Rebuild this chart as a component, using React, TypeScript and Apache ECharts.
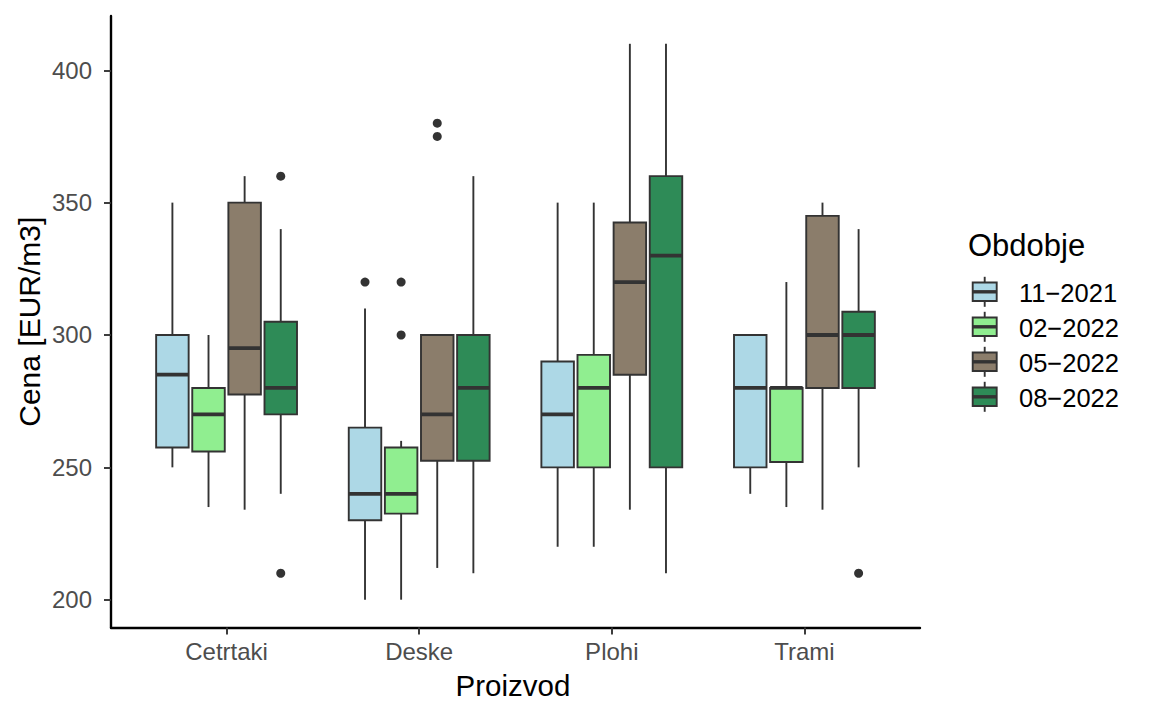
import React, { useEffect, useRef } from "react";
import * as echarts from "echarts";

// ---- Data ----
const CATEGORIES = ["Cetrtaki", "Deske", "Plohi", "Trami"];
const PERIODS = ["11\u22122021", "02\u22122022", "05\u22122022", "08\u22122022"];
const COLORS = ["#ADD8E6", "#90EE90", "#8B7D6B", "#2E8B57"];
const Y_TICKS = [200, 250, 300, 350, 400];

// [lower whisker, Q1, median, Q3, upper whisker] per category
const BOX_11_2021 = [
  [250, 257.5, 285, 300, 350],
  [200, 230, 240, 265, 310],
  [220, 250, 270, 290, 350],
  [240, 250, 280, 300, 300],
];
const BOX_02_2022 = [
  [235, 256, 270, 280, 300],
  [200, 232.5, 240, 257.5, 260],
  [220, 250, 280, 292.5, 350],
  [235, 252, 280, 280, 320],
];
const BOX_05_2022 = [
  [234, 277.5, 295, 350, 360],
  [212, 252.5, 270, 300, 300],
  [234, 285, 320, 342.5, 410],
  [234, 280, 300, 345, 350],
];
const BOX_08_2022 = [
  [240, 270, 280, 305, 340],
  [210, 252.5, 280, 300, 360],
  [210, 250, 330, 360, 410],
  [250, 280, 300, 308.75, 340],
];

// outliers: [category, value]
const OUT_11_2021: [string, number][] = [["Deske", 320]];
const OUT_02_2022: [string, number][] = [["Deske", 320], ["Deske", 300]];
const OUT_05_2022: [string, number][] = [["Deske", 380], ["Deske", 375]];
const OUT_08_2022: [string, number][] = [["Cetrtaki", 360], ["Cetrtaki", 210], ["Trami", 210]];

const BOXES = [BOX_11_2021, BOX_02_2022, BOX_05_2022, BOX_08_2022];
const OUTLIERS = [OUT_11_2021, OUT_02_2022, OUT_05_2022, OUT_08_2022];

// ---- Layout ----
const FONT = "'Liberation Sans', Arial, Helvetica, sans-serif";
const DODGE = 0.75 / 4;
const HALF = (DODGE * 0.9) / 2;
const OFFSETS = [-1.5, -0.5, 0.5, 1.5].map((k) => k * DODGE);
const STROKE = "#333333";
const LW = 1.9;

export default function App() {
  const ref = useRef<HTMLDivElement>(null);

  useEffect(() => {
    if (!ref.current) return;
    const chart = echarts.init(ref.current, null, { renderer: "svg" });

    const boxSeries = BOXES.map((boxes, si) => ({
      type: "custom",
      name: PERIODS[si],
      encode: { x: 0, y: [1, 2, 3, 4, 5] },
      data: boxes.map((b, ci) => [ci + 1, ...b]),
      z: 2,
      renderItem: (params: any, api: any) => {
        const x = api.value(0) + OFFSETS[si];
        const low = api.value(1);
        const q1 = api.value(2);
        const med = api.value(3);
        const q3 = api.value(4);
        const high = api.value(5);
        const lt = api.coord([x - HALF, q3]);
        const rb = api.coord([x + HALF, q1]);
        const pm = api.coord([x, med]);
        const pl = api.coord([x, low]);
        const ph = api.coord([x, high]);
        const ls = { stroke: STROKE, lineWidth: LW };
        return {
          type: "group",
          children: [
            { type: "line", shape: { x1: ph[0], y1: ph[1], x2: ph[0], y2: lt[1] }, style: ls },
            { type: "line", shape: { x1: pl[0], y1: rb[1], x2: pl[0], y2: pl[1] }, style: ls },
            {
              type: "rect",
              shape: { x: lt[0], y: lt[1], width: rb[0] - lt[0], height: rb[1] - lt[1] },
              style: { fill: COLORS[si], stroke: STROKE, lineWidth: LW },
            },
            {
              type: "line",
              shape: { x1: lt[0], y1: pm[1], x2: rb[0], y2: pm[1] },
              style: { stroke: STROKE, lineWidth: 3.8 },
            },
          ],
        };
      },
    }));

    const outlierSeries = OUTLIERS.map((outs, si) => ({
      type: "scatter",
      name: PERIODS[si] + " outliers",
      symbol: "circle",
      symbolSize: 9,
      z: 3,
      itemStyle: { color: STROKE, opacity: 1 },
      data: outs.map(([cat, v]) => [CATEGORIES.indexOf(cat) + 1 + OFFSETS[si], v]),
    }));

    const legendEls: any[] = [
      {
        type: "text",
        x: 968,
        y: 245,
        style: {
          text: "Obdobje",
          fill: "#000",
          fontSize: 31,
          fontFamily: FONT,
          align: "left",
          verticalAlign: "middle",
          textAlign: "left",
          textVerticalAlign: "middle",
        },
      },
    ];
    PERIODS.forEach((p, i) => {
      const cy = 291.8 + 35 * i;
      const cx = 984.7;
      legendEls.push(
        { type: "line", shape: { x1: cx, y1: cy - 15, x2: cx, y2: cy - 9.25 }, style: { stroke: STROKE, lineWidth: LW } },
        { type: "line", shape: { x1: cx, y1: cy + 9.25, x2: cx, y2: cy + 15 }, style: { stroke: STROKE, lineWidth: LW } },
        {
          type: "rect",
          shape: { x: cx - 12, y: cy - 9.25, width: 24, height: 18.5 },
          style: { fill: COLORS[i], stroke: STROKE, lineWidth: LW },
        },
        { type: "line", shape: { x1: cx - 12, y1: cy, x2: cx + 12, y2: cy }, style: { stroke: STROKE, lineWidth: 3.4 } },
        {
          type: "text",
          x: 1019,
          y: cy + 1,
          style: {
            text: p,
            fill: "#000",
            fontSize: 25.5,
            fontFamily: FONT,
            align: "left",
            verticalAlign: "middle",
            textAlign: "left",
            textVerticalAlign: "middle",
          },
        }
      );
    });

    chart.setOption({
      animation: false,
      backgroundColor: "#ffffff",
      grid: { left: 111, right: 232, top: 16, bottom: 92.5, containLabel: false },
      xAxis: {
        type: "value",
        min: 0.4,
        max: 4.6,
        splitLine: { show: false },
        axisLine: { show: true, onZero: false, lineStyle: { color: "#000", width: 2.4 } },
        axisTick: { show: true, customValues: [1, 2, 3, 4], length: 7, lineStyle: { color: STROKE, width: LW } },
        axisLabel: {
          customValues: [1, 2, 3, 4],
          formatter: (v: number) => CATEGORIES[Math.round(v) - 1] ?? "",
          color: "#4D4D4D",
          fontSize: 24,
          fontFamily: FONT,
          margin: 12,
        },
      },
      yAxis: {
        type: "value",
        min: 189.5,
        max: 420.5,
        splitLine: { show: false },
        axisLine: { show: true, onZero: false, lineStyle: { color: "#000", width: 2.4 } },
        axisTick: { show: true, customValues: Y_TICKS, length: 7, lineStyle: { color: STROKE, width: LW } },
        axisLabel: {
          customValues: Y_TICKS,
          color: "#4D4D4D",
          fontSize: 24,
          fontFamily: FONT,
          margin: 19,
        },
      },
      graphic: [
        {
          type: "text",
          x: 29.5,
          y: 321.7,
          rotation: Math.PI / 2,
          style: {
            text: "Cena [EUR/m3]",
            fill: "#000",
            fontSize: 30,
            fontFamily: FONT,
            align: "center",
            verticalAlign: "middle",
            textAlign: "center",
            textVerticalAlign: "middle",
          },
        },
        {
          type: "text",
          x: 513,
          y: 685,
          style: {
            text: "Proizvod",
            fill: "#000",
            fontSize: 29.5,
            fontFamily: FONT,
            align: "center",
            verticalAlign: "middle",
            textAlign: "center",
            textVerticalAlign: "middle",
          },
        },
        ...legendEls,
      ],
      series: [...boxSeries, ...outlierSeries],
    });

    return () => chart.dispose();
  }, []);

  return (
    <div
      ref={ref}
      style={{ position: "fixed", left: 0, top: 0, width: 1152, height: 720, background: "#fff" }}
    />
  );
}
